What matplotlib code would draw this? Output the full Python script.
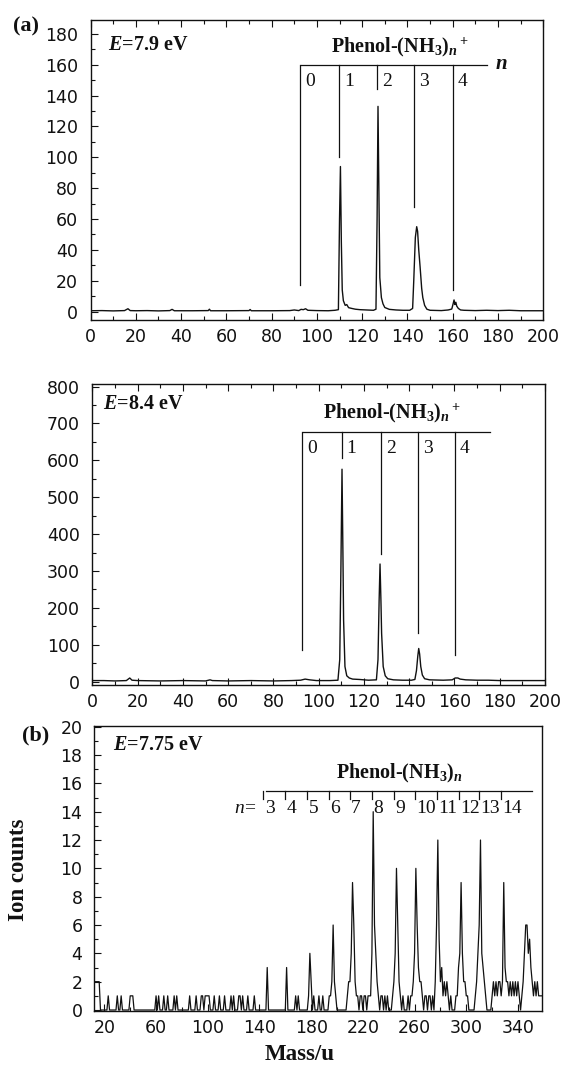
import matplotlib
matplotlib.use("Agg")
import matplotlib.pyplot as plt
import numpy as np
from matplotlib.ticker import MultipleLocator

plt.rcParams['mathtext.fontset'] = 'custom'
plt.rcParams['mathtext.rm'] = 'Liberation Serif:bold'
plt.rcParams['mathtext.it'] = 'Liberation Serif:bold:italic'
plt.rcParams['mathtext.bf'] = 'Liberation Serif:bold'

# ---------------- data ----------------
# Panel (a) top: E = 7.9 eV
p1_mass = [0, 5, 10, 15, 16.5, 17.5, 20, 25, 30, 35, 36, 37, 45, 52, 52.5, 53, 60, 70, 70.5, 71,
           80, 88, 90, 92, 93, 94, 95, 96, 100, 105, 108, 109.5, 110, 110.4, 110.8, 111.2, 111.7,
           112.5, 113.2, 114, 115.4, 117, 119, 122, 125, 126.1, 126.6, 127, 127.4, 127.8, 128.5,
           129.2, 130, 132, 135, 138, 141, 142.3, 142.8, 143.5, 144.1, 144.5, 145, 145.6, 146.3,
           146.8, 147.6, 148.6, 150, 155, 158, 159.6, 160.2, 160.6, 161, 161.4, 161.8, 162.5,
           163.5, 165, 170, 175, 180, 185, 190, 200]
p1_counts = [0.5, 0.6, 0.4, 0.6, 1.8, 0.6, 0.5, 0.6, 0.4, 0.6, 1.4, 0.5, 0.5, 0.6, 1.5, 0.5, 0.5, 0.6, 1.3, 0.5,
             0.5, 0.6, 1.0, 0.6, 1.4, 1.2, 1.8, 0.8, 0.6, 0.5, 0.8, 1.2, 60, 94, 45, 14, 7,
             4, 4.5, 2.5, 2, 1.5, 1.2, 1, 0.8, 1.5, 60, 133, 77, 22, 9,
             5, 2.6, 1.4, 1, 0.8, 0.8, 2, 20, 48, 55, 52, 40, 29, 15,
             9, 4, 1.5, 0.8, 0.6, 1, 1.6, 5, 7.5, 4.5, 6, 3.5, 2,
             1, 0.8, 0.6, 0.8, 0.6, 0.8, 0.5, 0.5]
p1_marker_mass = [92.5, 109.8, 126.7, 142.9, 160.0]
p1_marker_bottom = [17, 100, 144, 68, 14]
p1_marker_labels = ['0', '1', '2', '3', '4']

# Panel (a) bottom: E = 8.4 eV
p2_mass = [0, 5, 10, 15, 16.5, 17.5, 20, 30, 40, 50, 52, 53, 60, 70, 80, 88, 92, 94, 96, 99,
           105, 108.5, 109.3, 109.8, 110.3, 110.7, 111.0, 111.6, 112.4, 113.5, 115, 118, 122,
           125.5, 126.2, 126.7, 127.1, 127.5, 127.8, 128.5, 129.4, 130.5, 133, 137, 141, 142.5,
           143.2, 143.8, 144.2, 144.6, 145.1, 145.8, 146.8, 149, 155, 159, 160.3, 161.5, 162.5,
           165, 170, 175, 180, 190, 200]
p2_counts = [3, 3, 2, 3, 10, 4, 3, 2, 3, 2, 5, 3, 2, 3, 2, 3, 4, 7, 5, 3,
             3, 4, 60, 300, 576, 350, 167, 41, 16, 10, 7, 6, 4,
             5, 60, 220, 319, 220, 131, 41, 16, 8, 5, 4, 4, 6,
             30, 70, 90, 75, 41, 18, 8, 5, 4, 5, 10, 10, 7,
             5, 4, 4, 3, 3, 3]
p2_marker_mass = [92.8, 110.1, 127.4, 144.0, 160.2]
p2_marker_bottom = [86, 606, 345, 132, 72]
p2_marker_labels = ['0', '1', '2', '3', '4']

# Panel (b): E = 7.75 eV (non-zero channels only, 1 u bins)
p3_mass = [12, 13, 14, 15, 16, 23, 30, 33, 40, 41, 42, 60, 62, 66, 69, 74, 76, 86, 91,
           95, 96, 98, 99, 100, 101, 105, 109, 113, 118, 120, 124, 125, 127, 131, 136,
           146, 161, 168, 170,
           178, 179, 180, 182, 186, 189,
           194, 195, 196, 197, 198, 199,
           208, 209, 210, 211, 212, 213, 214, 215, 216, 218, 219, 221, 222, 224, 225,
           226, 227, 228, 229, 230, 231, 232, 234, 235, 237, 239,
           243, 244, 245, 246, 247, 248, 249, 251, 255,
           257, 258, 259, 260, 261, 262, 263, 264, 265, 266, 268, 269, 271, 272, 274,
           276, 277, 278, 279, 280, 281, 282, 283, 284, 285, 286, 288,
           292, 293, 294, 295, 296, 297, 298, 299, 300, 301,
           307, 308, 309, 310, 311, 312, 313, 314, 315,
           320, 321, 322, 323, 324, 325, 326, 327,
           328, 329, 330, 331, 332, 333, 334, 335, 336, 337, 338, 339, 340, 341,
           343, 344, 345, 346, 347, 348, 349, 350, 351, 352, 353, 354, 355, 356, 357, 358, 359]
p3_counts = [2, 2, 2, 2, 2, 1, 1, 1, 1, 1, 1, 1, 1, 1, 1, 1, 1, 1, 1,
             1, 1, 1, 1, 1, 1, 1, 1, 1, 1, 1, 1, 1, 1, 1, 1,
             3, 3, 1, 1,
             1, 4, 2, 1, 1, 1,
             1, 1, 2, 6, 2, 1,
             1, 2, 2, 4, 9, 6, 2, 1, 1, 1, 1, 1, 1, 1, 1,
             1, 4, 14, 6, 4, 2, 1, 1, 1, 1, 1,
             1, 2, 4, 10, 6, 2, 1, 1, 1,
             1, 1, 2, 4, 10, 6, 3, 2, 2, 1, 1, 1, 1, 1, 1,
             2, 6, 12, 5, 2, 3, 1, 2, 1, 2, 1, 1,
             1, 1, 3, 4, 9, 4, 2, 2, 1, 1,
             1, 2, 4, 6, 12, 4, 3, 2, 1,
             1, 2, 1, 2, 1, 2, 2, 1,
             2, 9, 3, 2, 2, 1, 2, 1, 2, 1, 2, 1, 2, 1,
             1, 2, 4, 6, 6, 4, 5, 3, 2, 1, 2, 1, 2, 1, 1, 1, 1]
p3_n_labels = ['3', '4', '5', '6', '7', '8', '9', '10', '11', '12', '13', '14']
p3_n_ticks = [143, 160, 177, 194, 210, 227, 244, 260, 277, 294, 310, 327]

# ---------------- figure ----------------
W, H = 562, 1068
fig = plt.figure(figsize=(W / 100, H / 100), dpi=100)
ax1 = fig.add_axes([90.6 / W, 1 - 320 / H, (543.2 - 90.6) / W, 300 / H])
ax2 = fig.add_axes([92.4 / W, 1 - 685 / H, (545 - 92.4) / W, 301 / H])
ax3 = fig.add_axes([93.5 / W, 1 - 1011 / H, (542.4 - 93.5) / W, 285 / H])

serif = 'Liberation Serif'
lc = '#111111'
lw_data = 1.0

for ax in (ax1, ax2, ax3):
    for s in ax.spines.values():
        s.set_linewidth(1.0)
        s.set_color(lc)
    ax.tick_params(which='both', direction='in', color=lc, width=0.8)
    ax.tick_params(which='major', length=5)
    ax.tick_params(which='minor', length=3)
    ax.tick_params(axis='y', pad=9)
    ax.tick_params(axis='x', pad=6)

# ---- panel 1 ----
ax1.plot(p1_mass, p1_counts, color=lc, lw=lw_data)
ax1.set_xlim(0, 200)
ax1.set_ylim(-5.5, 189)
ax1.xaxis.set_major_locator(MultipleLocator(20))
ax1.xaxis.set_minor_locator(MultipleLocator(10))
ax1.yaxis.set_major_locator(MultipleLocator(20))
ax1.yaxis.set_minor_locator(MultipleLocator(10))
ax1.tick_params(axis='x', which='both', top=True)
ax1.plot([93.1, 175.3], [160, 160], color=lc, lw=0.9)
for m, b, lab in zip(p1_marker_mass, p1_marker_bottom, p1_marker_labels):
    ax1.plot([m, m], [160, b], color=lc, lw=0.9)
    ax1.text(m + 2.2, 149, lab, family=serif, size=14, ha='left', va='center', color=lc)
ax1.text(178.5, 160, r'$n$', family=serif, size=15, ha='left', va='center', color=lc)
ax1.text(136.4, 171, r'Phenol-(NH$_3$)$_n$$^+$', family=serif, size=14.5, weight='bold',
         ha='center', va='center', color=lc)
ax1.text(7.7, 173, r'$E$=7.9 eV', family=serif, size=14.5, weight='bold', ha='left', va='center', color=lc)

# ---- panel 2 ----
ax2.plot(p2_mass, p2_counts, color=lc, lw=lw_data)
ax2.set_xlim(0, 200)
ax2.set_ylim(-9, 807)
ax2.xaxis.set_major_locator(MultipleLocator(20))
ax2.xaxis.set_minor_locator(MultipleLocator(10))
ax2.yaxis.set_major_locator(MultipleLocator(100))
ax2.yaxis.set_minor_locator(MultipleLocator(50))
ax2.tick_params(axis='x', which='both', top=True)
ax2.plot([93.1, 175.7], [678, 678], color=lc, lw=0.9)
for m, b, lab in zip(p2_marker_mass, p2_marker_bottom, p2_marker_labels):
    ax2.plot([m, m], [678, b], color=lc, lw=0.9)
    ax2.text(m + 2.2, 633, lab, family=serif, size=14, ha='left', va='center', color=lc)
ax2.text(132.4, 727, r'Phenol-(NH$_3$)$_n$$^+$', family=serif, size=14.5, weight='bold',
         ha='center', va='center', color=lc)
ax2.text(4.9, 752, r'$E$=8.4 eV', family=serif, size=14.5, weight='bold', ha='left', va='center', color=lc)

# ---- panel 3 ----
full_mass = np.arange(12, 360)
full_counts = np.zeros(len(full_mass))
for m, c in zip(p3_mass, p3_counts):
    full_counts[m - 12] = c
ax3.plot(full_mass, full_counts, color=lc, lw=0.9)
ax3.set_xlim(11.6, 358.9)
ax3.set_ylim(-0.07, 20.05)
ax3.set_xticks([20, 60, 100, 140, 180, 220, 260, 300, 340])
ax3.xaxis.set_minor_locator(MultipleLocator(20))
ax3.yaxis.set_major_locator(MultipleLocator(2))
ax3.yaxis.set_minor_locator(MultipleLocator(1))
ax3.tick_params(axis='y', pad=8)
ax3.plot([144.7, 351.2], [15.45, 15.45], color=lc, lw=0.9)
for t, lab in zip(p3_n_ticks, p3_n_labels):
    ax3.plot([t, t], [15.45, 14.9], color=lc, lw=0.9)
    ax3.text(t + 1.0, 14.2, lab, family=serif, size=14, ha='left', va='center', color=lc)
ax3.text(138, 14.2, 'n=', family=serif, size=14, style='italic', ha='right', va='center', color=lc)
ax3.text(248.2, 16.7, r'Phenol-(NH$_3$)$_n$', family=serif, size=14.5, weight='bold',
         ha='center', va='center', color=lc)
ax3.text(27, 18.7, r'$E$=7.75 eV', family=serif, size=14.5, weight='bold', ha='left', va='center', color=lc)

for ax in (ax1, ax2, ax3):
    for lab in ax.get_xticklabels() + ax.get_yticklabels():
        lab.set_fontfamily('DejaVu Sans')
        lab.set_fontsize(12.5)
        lab.set_color(lc)

fig.text(26 / W, 1 - 26 / H, '(a)', family=serif, size=16, weight='bold', ha='center', va='center', color=lc)
fig.text(36 / W, 1 - 735 / H, '(b)', family=serif, size=16, weight='bold', ha='center', va='center', color=lc)
fig.text(19 / W, 1 - 870 / H, 'Ion counts', family=serif, size=16.5, weight='bold', rotation=90,
         ha='center', va='center', color=lc)
fig.text(300 / W, 1 - 1055 / H, 'Mass/u', family=serif, size=16.5, weight='bold', ha='center', va='center', color=lc)

fig.savefig('out.png', dpi=100)
